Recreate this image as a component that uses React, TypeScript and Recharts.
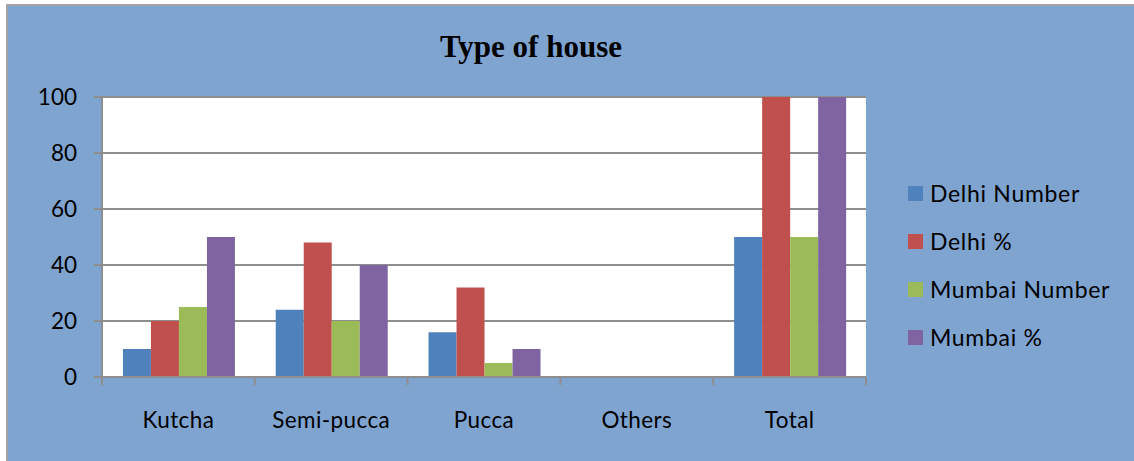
import React from "react";
import { BarChart, Bar, XAxis, YAxis, CartesianGrid } from "recharts";

const categories = ["Kutcha", "Semi-pucca", "Pucca", "Others", "Total"];
const delhiNumber = [10, 24, 16, 0, 50];
const delhiPct = [20, 48, 32, 0, 100];
const mumbaiNumber = [25, 20, 5, 0, 50];
const mumbaiPct = [50, 40, 10, 0, 100];
const yTicks = [0, 20, 40, 60, 80, 100];

const seriesNames = ["Delhi Number", "Delhi %", "Mumbai Number", "Mumbai %"];
const seriesKeys = ["dn", "dp", "mn", "mp"];
const seriesColors = ["#4F81BD", "#C0504D", "#9BBB59", "#8064A2"];

const data = categories.map((c, i) => ({
  name: c,
  dn: delhiNumber[i],
  dp: delhiPct[i],
  mn: mumbaiNumber[i],
  mp: mumbaiPct[i],
}));

const W = 1134;
const H = 461;
const PLOT_LEFT = 102;
const PLOT_RIGHT = 866;
const PLOT_TOP = 97;
const PLOT_BOTTOM = 377;
const Y_AXIS_W = 60;
const X_AXIS_H = 30;
const BAND = (PLOT_RIGHT - PLOT_LEFT) / categories.length;
const AXIS_COLOR = "#8e8e8e";
const FONT = "Lato, 'DejaVu Sans', sans-serif";

const XTick = (props: any) => {
  const { x, y, payload, index } = props;
  const isLast = index === categories.length - 1;
  return (
    <g>
      <line x1={x - BAND / 2} x2={x - BAND / 2} y1={y} y2={y + 8} stroke={AXIS_COLOR} strokeWidth={2} />
      {isLast && (
        <line x1={x + BAND / 2} x2={x + BAND / 2} y1={y} y2={y + 8} stroke={AXIS_COLOR} strokeWidth={2} />
      )}
      <text
        x={x}
        y={y + 51}
        textAnchor="middle"
        fontFamily={FONT}
        fontSize={22.5}
        letterSpacing={0.4}
        fill="#000"
      >
        {payload.value}
      </text>
    </g>
  );
};

export default function App() {
  return (
    <div style={{ position: "absolute", left: 0, top: 0, width: W, height: H, overflow: "hidden" }}>
      <div
        style={{
          position: "absolute",
          left: 6,
          top: 4,
          width: W + 20,
          height: H + 20,
          background: "#7FA4D0",
          borderLeft: "2px solid #a3a3a3",
          borderTop: "2px solid #a3a3a3",
        }}
      />
      <div
        style={{
          position: "absolute",
          left: 0,
          top: 29,
          width: 1062,
          textAlign: "center",
          fontFamily: "'Liberation Serif', 'Times New Roman', serif",
          fontWeight: "bold",
          fontSize: 31,
          lineHeight: "36px",
          color: "#000",
        }}
      >
        Type of house
      </div>
      <div style={{ position: "absolute", left: 0, top: 0 }}>
        <BarChart
          width={W}
          height={H}
          data={data}
          margin={{
            left: PLOT_LEFT - Y_AXIS_W,
            right: W - PLOT_RIGHT,
            top: PLOT_TOP,
            bottom: H - PLOT_BOTTOM - X_AXIS_H,
          }}
          barCategoryGap="13.7%"
          barGap={0}
        >
          <CartesianGrid
            vertical={false}
            stroke={AXIS_COLOR}
            strokeWidth={2}
            fill="#ffffff"
            fillOpacity={1}
          />
          <XAxis
            dataKey="name"
            height={X_AXIS_H}
            tickLine={false}
            tickSize={0}
            tickMargin={0}
            axisLine={{ stroke: AXIS_COLOR, strokeWidth: 2 }}
            tick={<XTick />}
            interval={0}
          />
          <YAxis
            width={Y_AXIS_W}
            domain={[0, 100]}
            ticks={yTicks}
            interval={0}
            tickSize={8}
            tickMargin={17}
            tickLine={{ stroke: AXIS_COLOR, strokeWidth: 2 }}
            axisLine={{ stroke: AXIS_COLOR, strokeWidth: 2 }}
            tick={{ fontFamily: FONT, fontSize: 22.5, fill: "#000" }}
          />
          {seriesKeys.map((k, i) => (
            <Bar key={k} dataKey={k} name={seriesNames[i]} fill={seriesColors[i]} isAnimationActive={false} />
          ))}
        </BarChart>
      </div>
      {seriesNames.map((n, i) => (
        <div
          key={n}
          style={{
            position: "absolute",
            left: 908,
            top: 178 + i * 48,
            height: 30,
            display: "flex",
            alignItems: "center",
            fontFamily: FONT,
            fontSize: 23,
            letterSpacing: 0.7,
            color: "#000",
            whiteSpace: "nowrap",
          }}
        >
          <span style={{ display: "inline-block", width: 15, height: 15, background: seriesColors[i], marginRight: 7 }} />
          {n}
        </div>
      ))}
    </div>
  );
}
